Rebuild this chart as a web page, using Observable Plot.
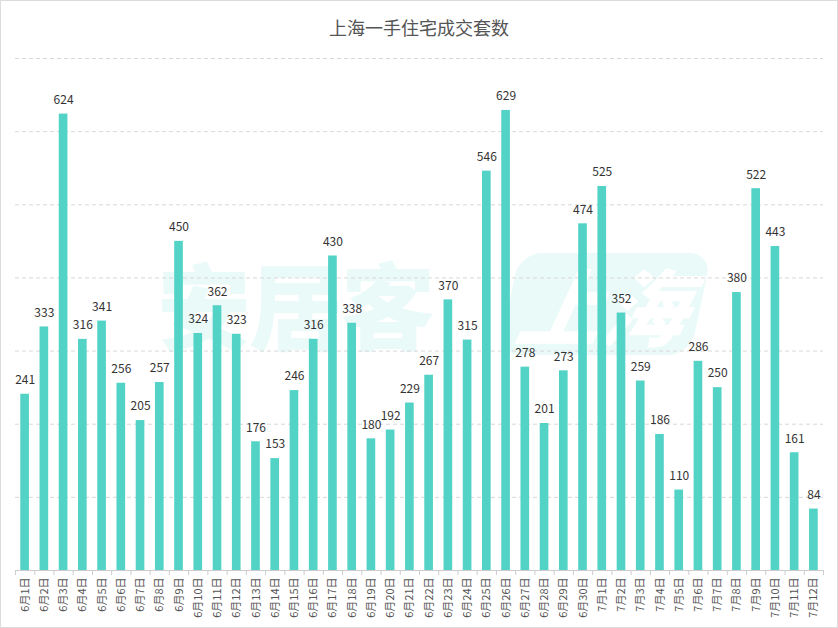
<!DOCTYPE html>
<html><head><meta charset="utf-8">
<script src="https://cdn.jsdelivr.net/npm/d3@7"></script>
<script src="https://cdn.jsdelivr.net/npm/@observablehq/plot@0.6"></script>
<style>
html,body{margin:0;padding:0;background:#fff;}
#wrap{position:relative;width:838px;height:628px;box-sizing:border-box;border:1px solid #dcdcdc;overflow:hidden;font-family:"Noto Sans CJK SC",sans-serif;}
#title{height:44px;padding-top:8px;box-sizing:border-box;line-height:36px;text-align:center;font-size:18px;color:#555;}
#chart{position:relative;z-index:2;}
#wm1{position:absolute;z-index:1;left:156px;top:246px;font-size:94px;font-weight:900;color:rgba(82,211,198,0.12);letter-spacing:-2px;pointer-events:none;line-height:110px;}
#wm2{position:absolute;z-index:1;left:508px;top:252px;width:192px;height:102px;border-radius:22px;background:rgba(82,211,198,0.12);transform:skewX(-12deg);pointer-events:none;text-align:center;line-height:102px;font-size:84px;font-weight:900;font-style:italic;color:#fff;}
</style></head>
<body>
<div id="wrap">
<div id="title">上海一手住宅成交套数</div>
<div id="wm1">安居客</div>
<div id="wm2">上海</div>
<div id="chart"></div>
</div>
<script>
const labels = ["6月1日","6月2日","6月3日","6月4日","6月5日","6月6日","6月7日","6月8日","6月9日","6月10日",
"6月11日","6月12日","6月13日","6月14日","6月15日","6月16日","6月17日","6月18日","6月19日","6月20日",
"6月21日","6月22日","6月23日","6月24日","6月25日","6月26日","6月27日","6月28日","6月29日","6月30日",
"7月1日","7月2日","7月3日","7月4日","7月5日","7月6日","7月7日","7月8日","7月9日","7月10日","7月11日","7月12日"];
const values = [241,333,624,316,341,256,205,257,450,324,
362,323,176,153,246,316,430,338,180,192,
229,267,370,315,546,629,278,201,273,474,
525,352,259,186,110,286,250,380,522,443,161,84];
const gridValues = [100,200,300,400,500,600,700];

const data = labels.map((l,i)=>({label:l, value:values[i]}));
const W = 836, ML = 14, MR = 14;
const step = (W-ML-MR)/labels.length;

const chart = Plot.plot({
  width: W, height: 582,
  marginTop: 13, marginBottom: 57, marginLeft: ML, marginRight: MR,
  x: {domain: labels, paddingInner: 0.55, paddingOuter: 0.275, round: false, label: null, tickRotate: -90, tickSize: 0, tickPadding: 7},
  y: {domain: [0,700], axis: null},
  style: {fontFamily: '"Noto Sans CJK SC", sans-serif', fontSize: "11px", color: "#555", background: "transparent"},
  marks: [
    Plot.ruleY(gridValues, {stroke: "#d8d8d8", strokeDasharray: "4,3"}),
    Plot.barY(data, {x: "label", y: "value", fill: "#52d3c6"}),
    Plot.text(data, {x: "label", y: "value", text: d => String(d.value), dy: -14, fill: "#333", fontSize: 12}),
    Plot.ruleY([0], {stroke: "#cccccc"}),
    Plot.ruleX(labels, {x: d => d, y1: 0, y2: 0, dx: -step/2, insetBottom: -5, stroke: "#cccccc"}),
    Plot.ruleX(labels.slice(-1), {x: d => d, y1: 0, y2: 0, dx: step/2, insetBottom: -5, stroke: "#cccccc"})
  ]
});
document.getElementById("chart").appendChild(chart);
</script>
</body></html>
